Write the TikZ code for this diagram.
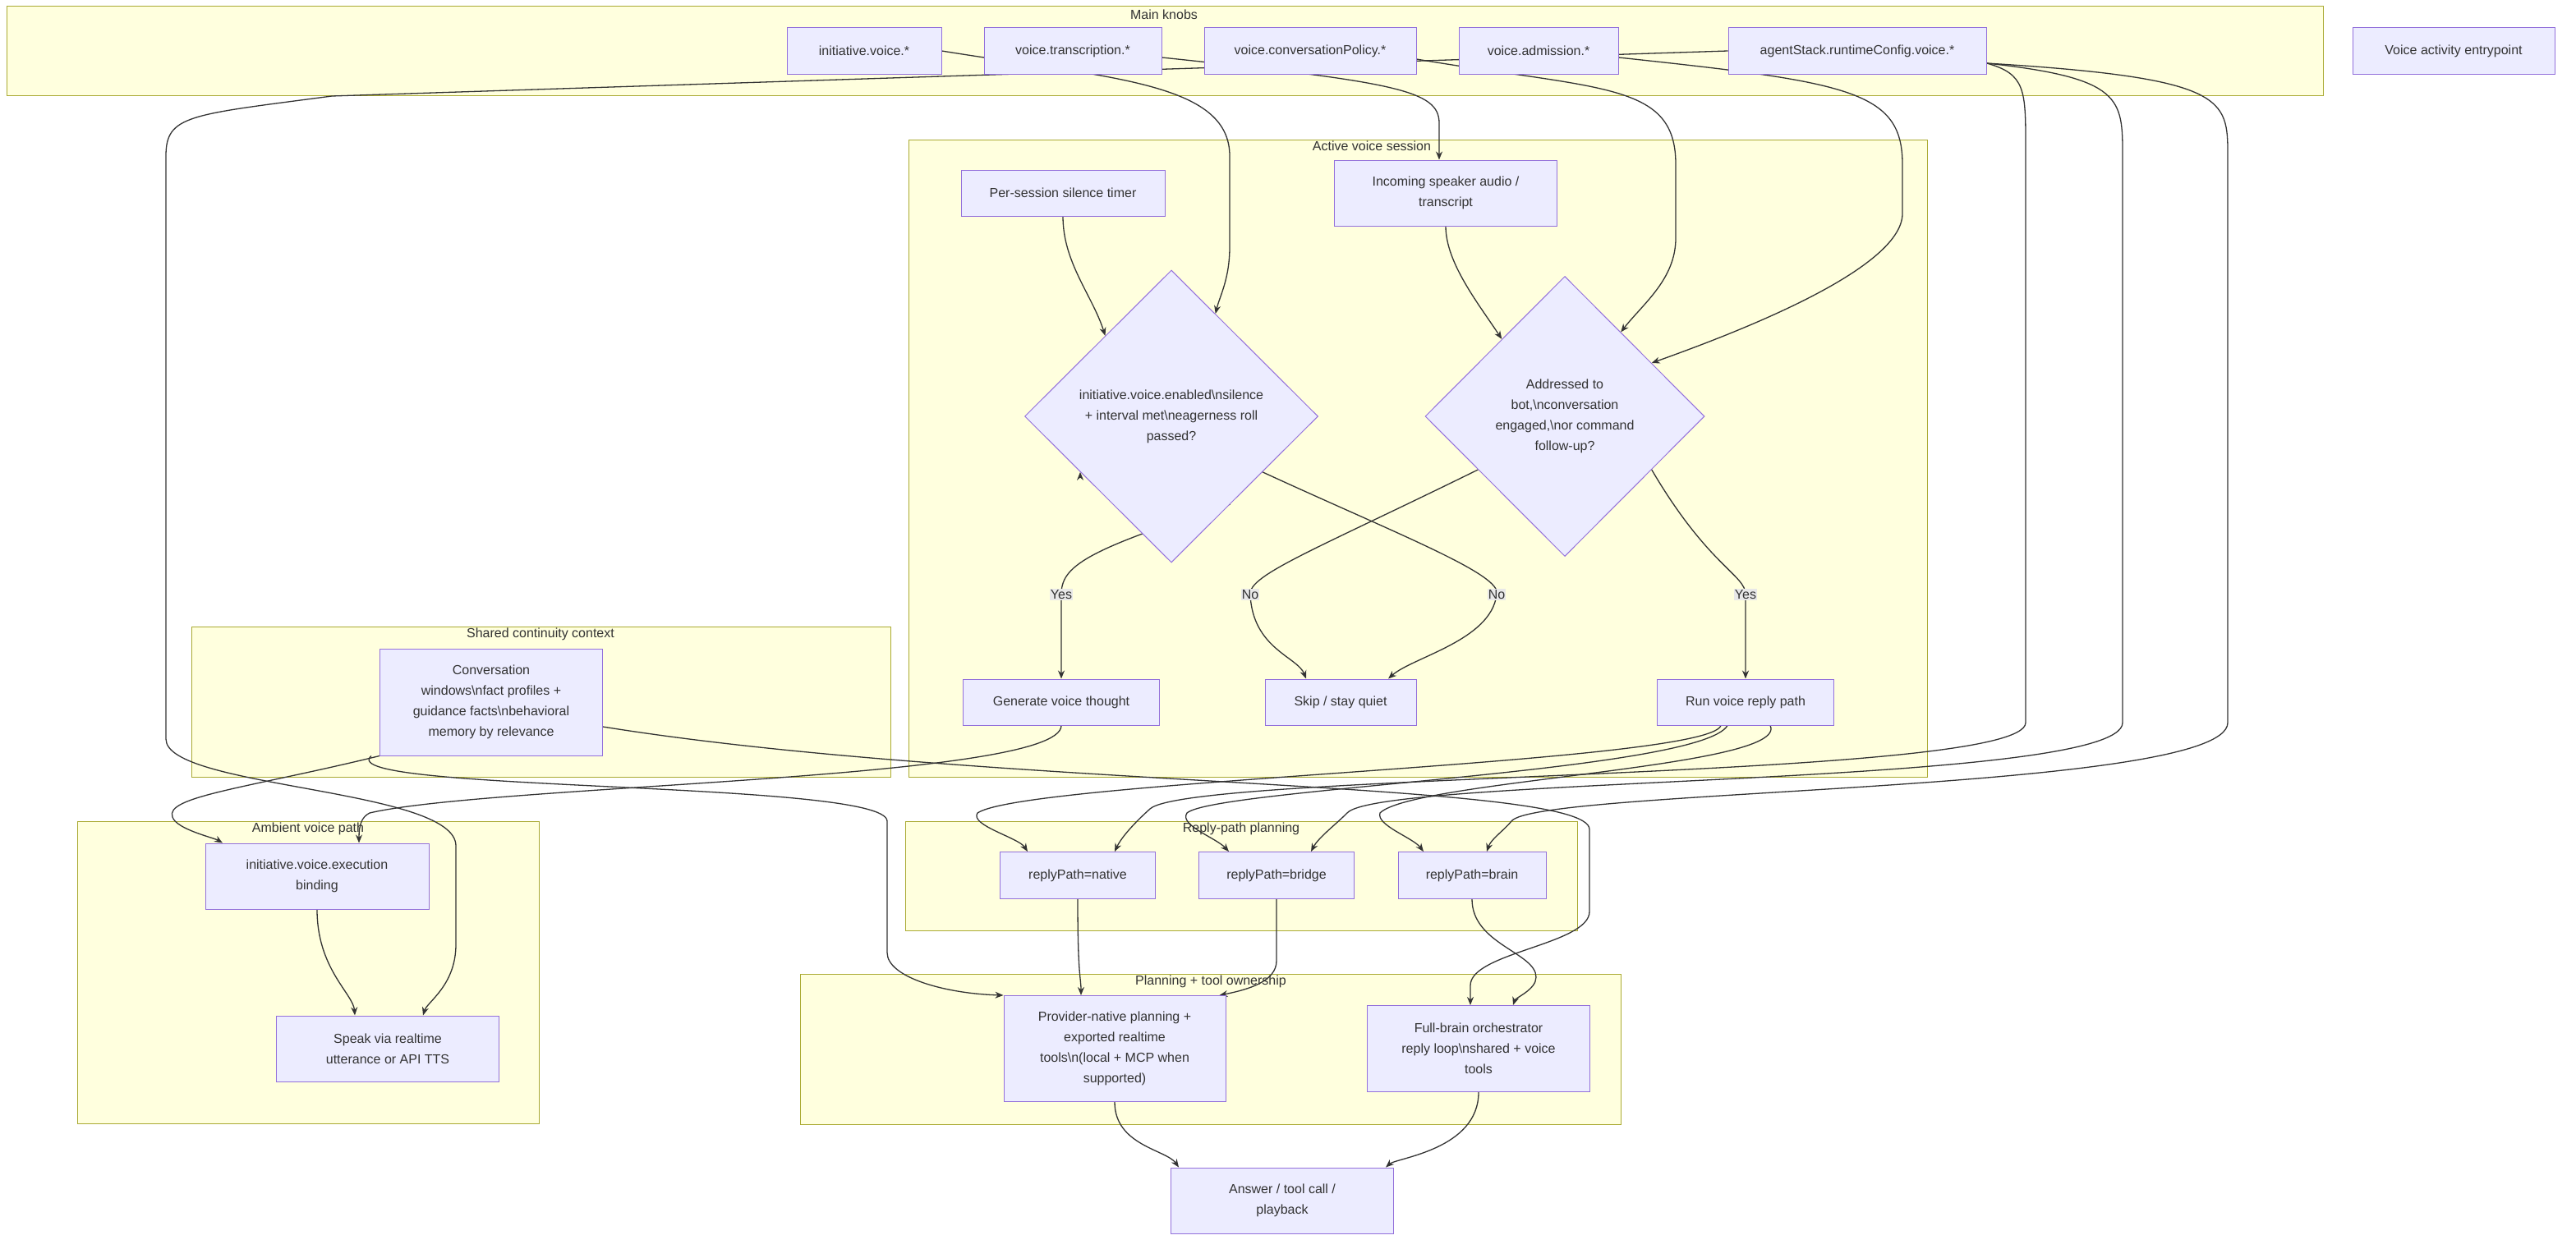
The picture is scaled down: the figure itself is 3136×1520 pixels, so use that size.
\documentclass[tikz,border=0pt]{standalone}
\usepackage{fontspec}
\setmainfont{Liberation Sans}
\usetikzlibrary{shapes.geometric,arrows.meta,calc}
\pgfdeclarelayer{bg}\pgfdeclarelayer{edges}
\pgfsetlayers{bg,edges,main}
\definecolor{nfill}{HTML}{ECECFF}\definecolor{ndraw}{HTML}{9370DB}
\definecolor{cfill}{HTML}{FFFFDE}\definecolor{cdraw}{HTML}{AAAA33}
\definecolor{ln}{HTML}{333333}\definecolor{lblbg}{HTML}{E8E8E8}
\begin{document}
\begin{tikzpicture}[x=1pt,y=-1pt,
  every node/.style={font=\fontsize{16}{25}\selectfont, text=ln},
  box/.style={draw=ndraw,fill=nfill,line width=1pt,align=center,inner sep=0pt},
  dia/.style={draw=ndraw,fill=nfill,line width=1pt,diamond,align=center,inner sep=0pt},
  clu/.style={draw=cdraw,fill=cfill,line width=1pt,inner sep=0pt},
  ttl/.style={anchor=north},
  lbl/.style={fill=lblbg,inner sep=1pt},
  arr/.style={draw=ln,line width=1.3pt,-{Stealth[length=10pt,width=8pt]}}]
\useasboundingbox (0,0) rectangle (3136,1520);
\begin{pgfonlayer}{bg}
\draw[clu] (8,8) rectangle (2828,116); \node[ttl] (tk) at (1417,8) {Main knobs};
\draw[clu] (1106,170) rectangle (2346,946); \node[ttl] (ta) at (1670,168) {Active voice session};
\draw[clu] (233,763) rectangle (1084,946); \node[ttl] (ts) at (658,761) {Shared continuity context};
\draw[clu] (94,1000) rectangle (656,1368); \node[ttl] (tb) at (375,998) {Ambient voice path};
\draw[clu] (1102,1000) rectangle (1920,1133); \node[ttl] (tr) at (1511,998) {Reply-path planning};
\draw[clu] (974,1186) rectangle (1973,1369); \node[ttl] (tp) at (1474,1184) {Planning + tool ownership};
\end{pgfonlayer}
% nodes
\node[box,minimum width=188,minimum height=56] (init) at (1052,62) {initiative.voice.*};
\node[box,minimum width=216,minimum height=56] (trans) at (1306,62) {voice.transcription.*};
\node[box,minimum width=258,minimum height=56] (cp) at (1595,62) {voice.conversationPolicy.*};
\node[box,minimum width=194,minimum height=56] (adm) at (1873,62) {voice.admission.*};
\node[box,minimum width=314,minimum height=56] (ag) at (2261,62) {agentStack.runtimeConfig.voice.*};
\node[box,minimum width=246,minimum height=56] (entry) at (2987,62) {Voice activity entrypoint};
\node[box,minimum width=248,minimum height=56] (timer) at (1294,235) {Per-session silence timer};
\node[box,minimum width=271,minimum height=80] (inc) at (1760,235) {Incoming speaker audio /\\transcript};
\node[dia,minimum width=357,minimum height=356] (d1) at (1426,507) {initiative.voice.enabled\textbackslash nsilence\\+ interval met\textbackslash neagerness roll\\passed?};
\node[dia,minimum width=340,minimum height=341] (d2) at (1905,507) {Addressed to\\bot,\textbackslash nconversation\\engaged,\textbackslash nor command\\follow-up?};
\node[box,minimum width=239,minimum height=56] (gen) at (1292,855) {Generate voice thought};
\node[box,minimum width=184,minimum height=56] (skip) at (1632,855) {Skip / stay quiet};
\node[box,minimum width=215,minimum height=56] (run) at (2125,855) {Run voice reply path};
\node[box,minimum width=271,minimum height=130] (conv) at (598,855) {Conversation\\windows\textbackslash nfact profiles +\\guidance facts\textbackslash nbehavioral\\memory by relevance};
\node[box,minimum width=272,minimum height=80] (exec) at (386,1067) {initiative.voice.execution\\binding};
\node[box,minimum width=271,minimum height=80] (speak) at (472,1277) {Speak via realtime\\utterance or API TTS};
\node[box,minimum width=189,minimum height=57] (native) at (1312,1066) {replyPath=native};
\node[box,minimum width=189,minimum height=57] (bridge) at (1554,1066) {replyPath=bridge};
\node[box,minimum width=180,minimum height=57] (brain) at (1792,1066) {replyPath=brain};
\node[box,minimum width=270,minimum height=129] (prov) at (1357,1277) {Provider-native planning +\\exported realtime\\tools\textbackslash n(local + MCP when\\supported)};
\node[box,minimum width=271,minimum height=105] (fb) at (1800,1277) {Full-brain orchestrator\\reply loop\textbackslash nshared + voice\\tools};
\node[box,minimum width=271,minimum height=80] (ans) at (1561,1462) {Answer / tool call /\\playback};
% edges
\begin{pgfonlayer}{edges}
\draw[arr] (init.east) .. controls (1350,95) and (1497,100) .. (1497,190) -- (1497,300) .. controls (1497,340) and (1485,360) .. ($(d1.north)!0.3!(d1.east)$);
\draw[arr] ([yshift=-8]trans.east) .. controls (1700,100) and (1752,110) .. (1752,150) -- (inc.north -| 1752,0);
\draw[arr] ([yshift=-10]cp.east) .. controls (1950,110) and (2040,100) .. (2040,200) -- (2040,290) .. controls (2040,340) and (2000,370) .. ($(d2.north)!0.4!(d2.east)$);
\draw[arr] ([yshift=-8]adm.east) .. controls (2250,100) and (2316,110) .. (2316,200) -- (2316,260) .. controls (2316,330) and (2100,410) .. ($(d2.north)!0.62!(d2.east)$);
\draw[arr] (ag.west) -- (404,117) .. controls (230,140) and (202,140) .. (202,190) -- (202,900) .. controls (202,960) and (555,960) .. (555,1030) -- (555,1150) .. controls (555,1200) and (520,1220) .. ([xshift=43]speak.north);
\draw[arr] ([yshift=-15]ag.east) .. controls (2466,90) and (2466,110) .. (2466,180) -- (2466,880) .. controls (2466,950) and (1450,940) .. (1400,985) .. controls (1380,1003) and (1365,1020) .. ([xshift=45]native.north);
\draw[arr] ([yshift=-15]ag.east) .. controls (2584,95) and (2584,120) .. (2584,190) -- (2584,880) .. controls (2584,958) and (1680,945) .. (1640,990) .. controls (1625,1005) and (1605,1020) .. ([xshift=42]bridge.north);
\draw[arr] ([yshift=-15]ag.east) .. controls (2712,95) and (2712,120) .. (2712,190) -- (2712,880) .. controls (2712,965) and (1870,960) .. (1840,1000) .. controls (1830,1012) and (1815,1022) .. ([xshift=18]brain.north);
\draw[arr] ([xshift=-30]run.south) .. controls (2080,930) and (1250,950) .. (1190,990) .. controls (1180,1005) and (1240,1020) .. ([xshift=-61]native.north);
\draw[arr] ([xshift=-22]run.south) .. controls (2070,940) and (1480,960) .. (1445,990) .. controls (1435,1005) and (1480,1020) .. ([xshift=-58]bridge.north);
\draw[arr] ([xshift=30]run.south) .. controls (2180,935) and (1720,950) .. (1680,990) .. controls (1675,1005) and (1720,1020) .. ([xshift=-59]brain.north);
\draw[arr] (timer.south) .. controls (1294,320) and (1330,360) .. ($(d1.north)!0.45!(d1.west)$);
\draw[arr] (inc.south) .. controls (1760,320) and (1800,370) .. ($(d2.north)!0.45!(d2.west)$);
\draw[arr] ($(d1.south)!0.4!(d1.east)$) .. controls (1320,670) and (1292,690) .. (1292,724) node[lbl]{Yes} -- (gen.north);
\draw[arr] ($(d1.south)!0.62!(d1.west)$);
\draw[arr] ($(d1.east)!0.38!(d1.south)$) .. controls (1700,650) and (1830,700) .. (1822,724) node[lbl]{No} .. controls (1815,780) and (1720,800) .. ([xshift=58]skip.north);
\draw[arr] ($(d2.west)!0.38!(d2.south)$) .. controls (1600,670) and (1520,700) .. (1522,724) node[lbl]{No} .. controls (1525,790) and (1580,800) .. ([xshift=-42]skip.north);
\draw[arr] ($(d2.east)!0.38!(d2.south)$) .. controls (2080,690) and (2125,700) .. (2125,724) node[lbl]{Yes} -- (run.north);
\draw[arr] (gen.south) .. controls (1292,950) and (600,955) .. (450,990) .. controls (440,995) and (437,1005) .. ([xshift=51]exec.north);
\draw[arr] (conv.south west) .. controls (300,960) and (200,970) .. (210,995) .. controls (215,1010) and (260,1020) .. ([xshift=-115]exec.north);
\draw[arr] ([xshift=-10]conv.south west) .. controls (400,965) and (1080,950) .. (1080,1000) -- (1080,1160) .. controls (1080,1190) and (1150,1210) .. (prov.north west);
\draw[arr] ([yshift=-30]conv.east) .. controls (1200,960) and (1935,950) .. (1935,1010) -- (1935,1110) .. controls (1935,1150) and (1790,1160) .. (1790,1200) -- ([xshift=-10]fb.north);
\draw[arr] (brain.south) .. controls (1792,1150) and (1870,1160) .. (1870,1190) .. controls (1870,1205) and (1845,1215) .. ([xshift=42]fb.north);
\draw[arr] (exec.south) .. controls (386,1180) and (430,1210) .. ([xshift=-40]speak.north);
\draw[arr] (native.south) .. controls (1312,1190) and (1316,1190) .. ([xshift=-41]prov.north);
\draw[arr] (bridge.south) -- (1554,1170) .. controls (1554,1195) and (1520,1205) .. ([xshift=-8]prov.north east);
\draw[arr] (prov.south) .. controls (1357,1395) and (1420,1400) .. ([xshift=10]ans.north west);
\draw[arr] (fb.south) .. controls (1800,1400) and (1700,1410) .. ([xshift=-10]ans.north east);
\end{pgfonlayer}
\end{tikzpicture}
\end{document}
